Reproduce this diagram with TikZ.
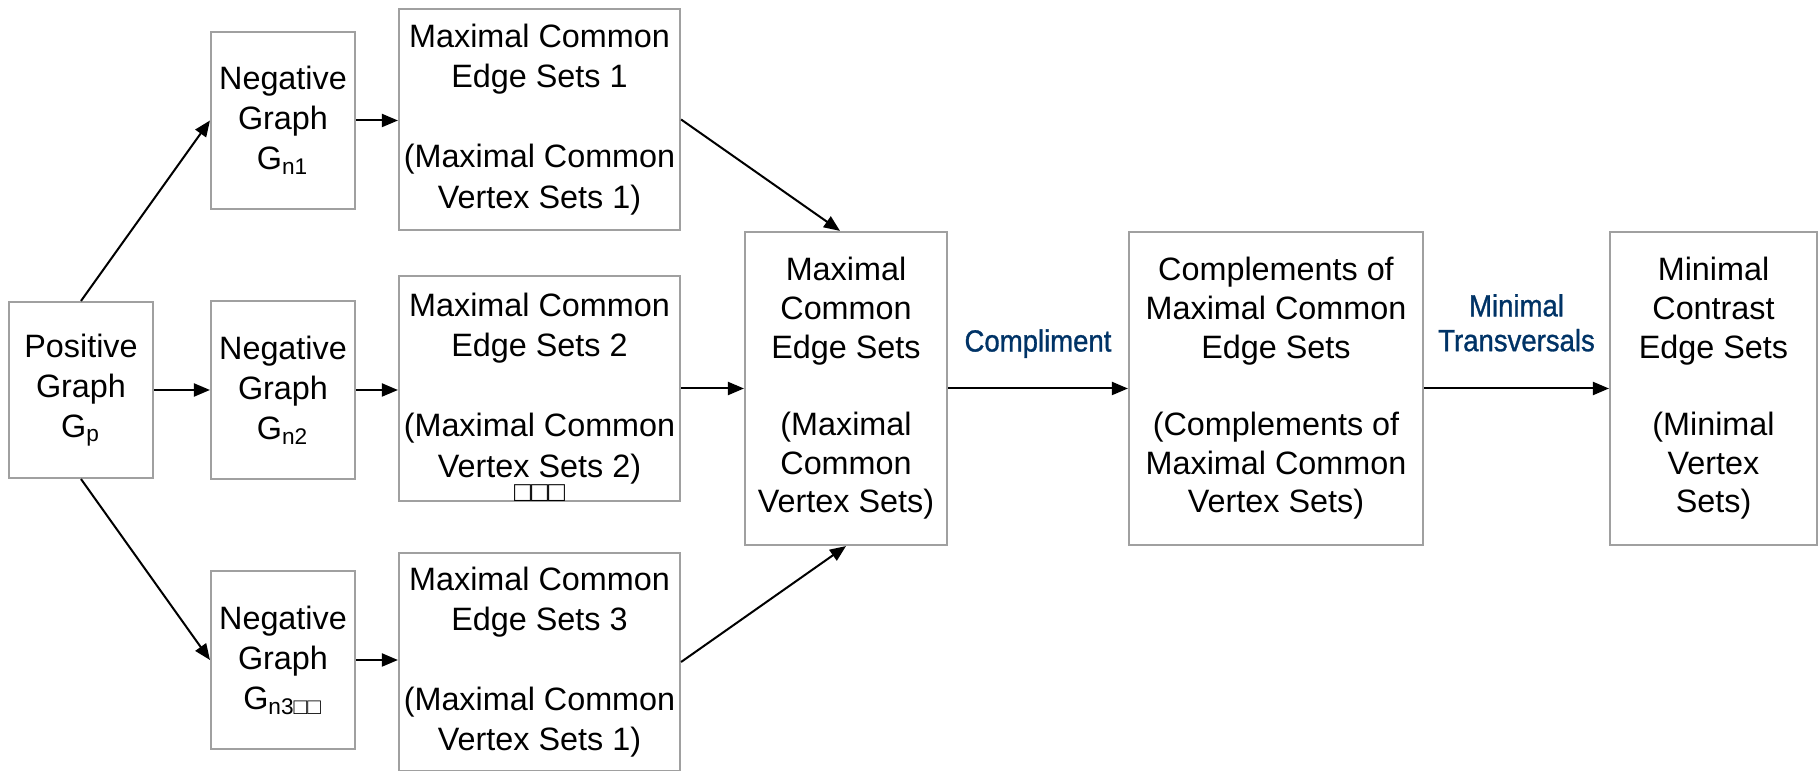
\documentclass[tikz,border=0pt]{standalone}
\usepackage{fontspec}
\setmainfont{Liberation Sans}
\newfontfamily\lblfont[FakeStretch=0.9,FakeBold=1]{Liberation Sans}
\usetikzlibrary{arrows.meta,positioning}
\definecolor{boxgray}{RGB}{160,160,160}
\definecolor{lblblue}{RGB}{0,51,102}
\tikzset{
	box/.style={draw=boxgray, line width=0.02cm, align=center, inner sep=0pt, font=\fontsize{9.2}{11.4}\selectfont},
	bigbox/.style={box, font=\fontsize{9.2}{11}\selectfont},
	arr/.style={-{Triangle[length=0.16cm,width=0.13cm]}, line width=0.02cm},
	lbl/.style={text=lblblue, align=center, inner sep=0pt, font=\lblfont\fontsize{8.7}{9.9}\selectfont},
	tofu/.style={anchor=base, inner sep=0pt, yshift=0.01cm, font=\fontsize{8}{8}\selectfont}
}
\begin{document}
\begin{tikzpicture}[x=0.01cm,y=-0.01cm]
	\useasboundingbox (0,0) rectangle (1819,771);
	\draw (81,390) node[box, minimum width=1.44cm, minimum height=1.76cm](pos) {Positive\\Graph\\G\textsubscript{p}};
	\draw (283,120.5) node[box, minimum width=1.44cm, minimum height=1.77cm](neg1) {Negative\\Graph\\G\textsubscript{n1}};
	\draw (283,390) node[box, minimum width=1.44cm, minimum height=1.77cm](neg2) {Negative\\Graph\\G\textsubscript{n2}};
	\draw (283,660) node[box, minimum width=1.44cm, minimum height=1.77cm](neg3) {Negative\\Graph\\G\textsubscript{n3□□}};
	\draw (539.5,119.5) node[box, minimum width=2.81cm, minimum height=2.21cm](mces1) {Maximal Common\\Edge Sets 1\\[11.4pt](Maximal Common\\Vertex Sets 1)};
	\draw (539.5,388.5) node[box, minimum width=2.81cm, minimum height=2.25cm, label={[tofu]south:□□□}](mces2) {Maximal Common\\Edge Sets 2\\[11.4pt](Maximal Common\\Vertex Sets 2)};
	\draw (539.5,662) node[box, minimum width=2.81cm, minimum height=2.18cm](mces3) {Maximal Common\\Edge Sets 3\\[11.4pt](Maximal Common\\Vertex Sets 1)};
	\draw (846,388.5) node[bigbox, minimum width=2.02cm, minimum height=3.13cm](mces) {Maximal\\Common\\Edge Sets\\[11pt](Maximal\\Common\\Vertex Sets)};
	\draw (1276,388.5) node[bigbox, minimum width=2.94cm, minimum height=3.13cm](compl) {Complements of\\Maximal Common\\Edge Sets\\[11pt](Complements of\\Maximal Common\\Vertex Sets)};
	\draw (1713.5,388.5) node[bigbox, minimum width=2.07cm, minimum height=3.13cm](mincon) {Minimal\\Contrast\\Edge Sets\\[11pt](Minimal\\Vertex\\Sets)};
	% positive graph to negative graphs
	\draw[arr] (pos.north) -- (neg1.west);
	\draw[arr] (pos) -- (neg2);
	\draw[arr] (pos.south) -- (neg3.west);
	\draw[arr] (neg1) -- (neg1 -| mces1.west);
	\draw[arr] (neg2) -- (neg2 -| mces2.west);
	\draw[arr] (neg3) -- (neg3 -| mces3.west);
	% merge
	\draw[arr] (mces1.east) -- ([xshift=-0.06cm]mces.north);
	\draw[arr] (mces2) -- (mces2 -| mces.west);
	\draw[arr] (mces3.east) -- (mces.south);
	\draw[arr] (mces) -- node[lbl, midway, above=0.296cm](lblcomp) {Compliment} (compl);
	\draw[arr] (compl) -- node[lbl, midway, above=0.36cm](lbltrans) {Minimal\\Transversals} (mincon);
\end{tikzpicture}
\end{document}
